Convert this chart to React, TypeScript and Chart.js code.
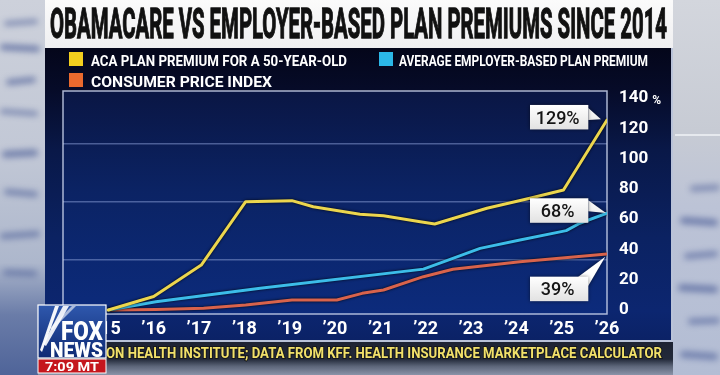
import React, { useEffect, useRef } from 'react';
import { Chart, registerables } from 'chart.js';

Chart.register(...registerables);

// ---------- text ----------
const TITLE = 'OBAMACARE VS EMPLOYER-BASED PLAN PREMIUMS SINCE 2014';
const SERIES_NAMES = [
  'ACA PLAN PREMIUM FOR A 50-YEAR-OLD',
  'AVERAGE EMPLOYER-BASED PLAN PREMIUM',
  'CONSUMER PRICE INDEX',
];
const CALLOUT_LABELS = ['129%', '68%', '39%'];
const SOURCE_HIDDEN = 'SOURCE: PARAG';
const SOURCE_VISIBLE = 'ON HEALTH INSTITUTE; DATA FROM KFF. HEALTH INSURANCE MARKETPLACE CALCULATOR';
const CLOCK = '7:09 MT';
const Y_UNIT = '%';

// ---------- axes ----------
const X_TICK_YEARS = [2014, 2015, 2016, 2017, 2018, 2019, 2020, 2021, 2022, 2023, 2024, 2025, 2026];
const X_TICK_LABELS = ['’14', '’15', '’16', '’17', '’18', '’19', '’20', '’21', '’22', '’23', '’24', '’25', '’26'];
const Y_TICKS = [0, 20, 40, 60, 80, 100, 120, 140];
const GRID_VALUES = [33.3, 71.5, 110.1];
const Y_MIN = -2.64;
const Y_MAX = 144.62;

// ---------- data (cumulative % growth) ----------
const ACA_YEARS = [2015, 2016, 2017.05, 2018.03, 2019.05, 2019.52, 2020.55, 2021.07, 2021.88, 2022.2, 2023.35, 2024.3, 2025.04, 2026];
const ACA_VALUES = [0, 8.9, 29.7, 71.5, 72.2, 68.2, 63.2, 62.3, 58.3, 56.8, 67.2, 73.8, 79.2, 125.5];

const EMP_YEARS = [2015, 2016.05, 2018.35, 2021.95, 2022.6, 2023.2, 2024.08, 2025.1, 2025.4, 2026];
const EMP_VALUES = [0, 5.5, 14.3, 27, 34.1, 40.7, 46.2, 52.4, 57.3, 64];

const CPI_YEARS = [2015, 2016.05, 2017.1, 2018.03, 2019.05, 2020.04, 2020.6, 2021.07, 2021.95, 2022.6, 2024.08, 2026];
const CPI_VALUES = [0, 0.3, 1.1, 3.3, 6.6, 6.6, 11, 13.2, 22, 26.9, 31.9, 37];

// ---------- styles ----------
const LINE_COLORS = ['#ecd64e', '#3cbde9', '#d8634c'];
const LEGEND_COLORS = ['#f3cf1e', '#2bb7e7', '#ea6a2e'];
const CALLOUT_LAYOUT = [
  { dx: -18.7, dy: -2.75, tail: [[0, 3], [0, 15]], tipDx: -6, tipDy: -0.7 },
  { dx: -18.7, dy: -2.55, tail: [[0, 2], [0, 13]], tipDx: -1, tipDy: 0 },
  { dx: -18.7, dy: 34.95, tail: [[-10, 0], [0, 9]], tipDx: -1.7, tipDy: 2.7 },
];

const pts = (xs: number[], ys: number[]) => xs.map((x, i) => ({ x, y: ys[i] }));

const overlayPlugin = {
  id: 'overlay',
  beforeDraw(chart: any) {
    const { ctx, chartArea: a } = chart;
    ctx.save();
    const g = ctx.createLinearGradient(0, a.top, 0, a.bottom);
    g.addColorStop(0, '#0a1644');
    g.addColorStop(0.45, '#0b2364');
    g.addColorStop(1, '#0c2b7c');
    ctx.fillStyle = g;
    ctx.fillRect(a.left, a.top, a.right - a.left, a.bottom - a.top);
    ctx.restore();
  },
  beforeDatasetsDraw(chart: any) {
    const { ctx, chartArea: a } = chart;
    ctx.save();
    ctx.strokeStyle = 'rgba(200,210,235,0.85)';
    ctx.lineWidth = 1.5;
    ctx.strokeRect(a.left, a.top, a.right - a.left, a.bottom - a.top);
    ctx.restore();
  },
  beforeDatasetDraw(chart: any) {
    const ctx = chart.ctx;
    ctx.save();
    ctx.shadowColor = 'rgba(0,0,0,0.9)';
    ctx.shadowBlur = 3;
  },
  afterDatasetDraw(chart: any) {
    chart.ctx.restore();
  },
  afterDatasetsDraw(chart: any) {
    const ctx = chart.ctx;
    const bw = 58.3;
    const bh = 24.5;
    CALLOUT_LABELS.forEach((label, i) => {
      const meta = chart.getDatasetMeta(i);
      const p = meta.data[meta.data.length - 1];
      const L = CALLOUT_LAYOUT[i];
      const right = p.x + L.dx;
      const left = right - bw;
      const top = p.y + L.dy - bh / 2;
      ctx.save();
      ctx.shadowColor = 'rgba(0,0,0,0.55)';
      ctx.shadowBlur = 4;
      const g = ctx.createLinearGradient(0, top, 0, top + bh);
      g.addColorStop(0, '#ffffff');
      g.addColorStop(1, '#e2e2e2');
      ctx.fillStyle = g;
      ctx.beginPath();
      ctx.moveTo(right + L.tail[0][0], top + L.tail[0][1]);
      ctx.lineTo(p.x + L.tipDx, p.y + L.tipDy);
      ctx.lineTo(right + L.tail[1][0], top + L.tail[1][1]);
      ctx.closePath();
      ctx.fill();
      ctx.fillRect(left, top, bw, bh);
      ctx.restore();
      ctx.save();
      ctx.fillStyle = '#151515';
      ctx.font = '500 18px Roboto';
      ctx.textAlign = 'center';
      ctx.textBaseline = 'alphabetic';
      ctx.fillText(label, left + bw / 2 - 1.5, top + bh / 2 + 6.4);
      ctx.restore();
    });
  },
  afterDraw(chart: any) {
    const ctx = chart.ctx;
    const ys = chart.scales.y;
    const top = Y_TICKS[Y_TICKS.length - 1];
    const py = ys.getPixelForValue(top);
    ctx.save();
    ctx.font = 'bold 17px Roboto';
    const w = ctx.measureText(String(top)).width;
    ctx.font = 'bold 12px Roboto';
    ctx.fillStyle = '#ffffff';
    ctx.textAlign = 'left';
    ctx.textBaseline = 'alphabetic';
    ctx.fillText(Y_UNIT, ys.left + 12 + w + 4, py + 6);
    ctx.restore();
  },
};

function ChartCanvas() {
  const ref = useRef<HTMLCanvasElement>(null);
  useEffect(() => {
    if (!ref.current) return;
    const tickFont = { family: 'Roboto', size: 17, weight: 'bold' as const };
    const chart = new Chart(ref.current, {
      type: 'line',
      data: {
        datasets: [
          { label: SERIES_NAMES[0], data: pts(ACA_YEARS, ACA_VALUES), borderColor: LINE_COLORS[0] },
          { label: SERIES_NAMES[1], data: pts(EMP_YEARS, EMP_VALUES), borderColor: LINE_COLORS[1] },
          { label: SERIES_NAMES[2], data: pts(CPI_YEARS, CPI_VALUES), borderColor: LINE_COLORS[2] },
        ].map((d) => ({
          ...d,
          xAxisID: 'x',
          yAxisID: 'y',
          borderWidth: 3,
          pointRadius: 0,
          tension: 0,
          fill: false,
          borderJoinStyle: 'round' as const,
          borderCapStyle: 'round' as const,
        })),
      },
      options: {
        responsive: false,
        animation: false,
        devicePixelRatio: 1,
        layout: { padding: { left: 63, top: 91, right: 53, bottom: 31 } },
        plugins: { legend: { display: false }, tooltip: { enabled: false }, title: { display: false } },
        events: [],
        scales: {
          x: {
            type: 'linear',
            position: 'bottom',
            min: X_TICK_YEARS[0],
            max: X_TICK_YEARS[X_TICK_YEARS.length - 1],
            afterBuildTicks: (s: any) => {
              s.ticks = X_TICK_YEARS.map((v) => ({ value: v }));
            },
            afterFit: (s: any) => {
              s.height = 30;
            },
            grid: { display: false, drawTicks: false },
            border: { display: false },
            ticks: {
              color: '#ffffff',
              font: { family: 'Roboto', size: 18, weight: 'bold' },
              padding: 5,
              autoSkip: false,
              maxRotation: 0,
              callback: (_v: any, i: number) => X_TICK_LABELS[i],
            },
          },
          y: {
            type: 'linear',
            position: 'right',
            min: Y_MIN,
            max: Y_MAX,
            afterBuildTicks: (s: any) => {
              s.ticks = Y_TICKS.map((v) => ({ value: v }));
            },
            afterFit: (s: any) => {
              s.width = 60;
            },
            grid: { display: false, drawTicks: false },
            border: { display: false },
            ticks: { color: '#ffffff', font: tickFont, padding: 12, callback: (v: any) => String(v) },
          },
          yGrid: {
            type: 'linear',
            position: 'left',
            min: Y_MIN,
            max: Y_MAX,
            afterBuildTicks: (s: any) => {
              s.ticks = GRID_VALUES.map((v) => ({ value: v }));
            },
            afterFit: (s: any) => {
              s.width = 0;
            },
            grid: { color: 'rgba(140,160,215,0.5)', lineWidth: 1.5, drawTicks: false },
            border: { display: false },
            ticks: { display: false },
          },
        },
      } as any,
      plugins: [overlayPlugin],
    });
    return () => chart.destroy();
  }, []);
  return (
    <canvas
      ref={ref}
      width={720}
      height={375}
      style={{ position: 'absolute', left: 0, top: 0, width: 720, height: 375, display: 'block' }}
    />
  );
}

const Blob = ({ l, t, w, h, c = '#34488a', o = 0.5, b = 3, r = 0 }: any) => (
  <div
    style={{
      position: 'absolute',
      left: l,
      top: t,
      width: w,
      height: h,
      background: c,
      opacity: o,
      filter: `blur(${b}px)`,
      borderRadius: 6,
      transform: `rotate(${r}deg)`,
    }}
  />
);

export default function App() {
  const font = 'Roboto, "Liberation Sans", sans-serif';
  return (
    <div
      style={{
        position: 'fixed',
        left: 0,
        top: 0,
        width: 720,
        height: 375,
        overflow: 'hidden',
        background: '#b4bccd',
      }}
    >
      {/* left paper */}
      <div
        style={{
          position: 'absolute',
          left: 0,
          top: 0,
          width: 48,
          height: 375,
          background: 'linear-gradient(180deg,#cdd1db 0%,#c2c8d6 40%,#adb7cc 70%,#6a7ca8 84%,#4f6499 100%)',
        }}
      />
      <Blob l={4} t={20} w={34} h={5} r={-4} />
      <Blob l={0} t={45} w={40} h={6} r={3} o={0.6} />
      <Blob l={6} t={78} w={30} h={6} r={-6} o={0.55} />
      <Blob l={0} t={110} w={38} h={5} r={4} o={0.5} />
      <Blob l={2} t={150} w={36} h={7} r={-3} o={0.55} />
      <Blob l={4} t={190} w={34} h={6} r={5} o={0.5} />
      <Blob l={0} t={232} w={40} h={6} r={-4} o={0.5} />
      <Blob l={3} t={270} w={34} h={6} r={2} o={0.45} />
      {/* right paper */}
      <div
        style={{
          position: 'absolute',
          left: 670,
          top: 0,
          width: 50,
          height: 375,
          background: 'linear-gradient(180deg,#d3d6dd 0%,#c7cbd4 35%,#bcc3d6 55%,#b3bdd4 100%)',
        }}
      />
      <div style={{ position: 'absolute', left: 675, top: 134, width: 45, height: 2, background: '#eef0f4', opacity: 0.8 }} />
      <Blob l={690} t={185} w={30} h={6} r={-3} o={0.45} />
      <Blob l={680} t={218} w={38} h={7} r={4} o={0.55} />
      <Blob l={684} t={252} w={34} h={6} r={-5} o={0.5} />
      <Blob l={678} t={285} w={40} h={7} r={3} o={0.55} />
      <Blob l={688} t={318} w={32} h={6} r={-2} o={0.5} />
      <Blob l={680} t={352} w={38} h={7} r={4} o={0.5} />
      {/* bottom scene */}
      <div
        style={{
          position: 'absolute',
          left: 38,
          top: 340,
          width: 635,
          height: 35,
          background: 'linear-gradient(180deg,#1d2232 0%,#232a3a 55%,#5c6579 75%,#8a93a8 100%)',
        }}
      />
      {/* panel */}
      <div
        style={{
          position: 'absolute',
          left: 45,
          top: 48,
          width: 626,
          height: 292,
          background:
            'linear-gradient(180deg,#04061a 0%,#060b28 14%,#091848 35%,#0b2262 65%,#0c2670 90%,#0b2266 100%)',
          borderRight: '2px solid #b9c2d8',
          borderBottom: '2px solid #b9c2d8',
        }}
      />
      {/* title band */}
      <div
        style={{
          position: 'absolute',
          left: 45,
          top: 0,
          width: 628,
          height: 48,
          background: 'linear-gradient(180deg,#fbfbfb 0%,#efeff1 100%)',
        }}
      />
      <ChartCanvas />
      <svg
        width={720}
        height={375}
        style={{ position: 'absolute', left: 0, top: 0 }}
        fontFamily={font}
      >
        <defs>
          <linearGradient id="foxbg" x1="0" y1="0" x2="0" y2="1">
            <stop offset="0" stopColor="#2f58ad" />
            <stop offset="1" stopColor="#0e2a74" />
          </linearGradient>
          <clipPath id="srcclip">
            <rect x={38} y={330} width={640} height={45} />
          </clipPath>
        </defs>
        {/* title */}
        <text
          x={50}
          y={38}
          fontSize={42}
          fontWeight={700}
          fill="#111"
          stroke="#111"
          strokeWidth={1.3}
          textLength={617}
          lengthAdjust="spacingAndGlyphs"
        >
          {TITLE}
        </text>
        {/* legend */}
        <rect x={69} y={52} width={14} height={14} fill={LEGEND_COLORS[0]} />
        <text x={91} y={66} fontSize={15.5} fontWeight={700} fill="#fff" textLength={256} lengthAdjust="spacingAndGlyphs">
          {SERIES_NAMES[0]}
        </text>
        <rect x={379} y={52} width={14} height={14} fill={LEGEND_COLORS[1]} />
        <text x={399} y={66} fontSize={15.5} fontWeight={700} fill="#fff" textLength={249} lengthAdjust="spacingAndGlyphs">
          {SERIES_NAMES[1]}
        </text>
        <rect x={69} y={73} width={14} height={14} fill={LEGEND_COLORS[2]} />
        <text x={91} y={87} fontSize={15.5} fontWeight={700} fill="#fff" textLength={181} lengthAdjust="spacingAndGlyphs">
          {SERIES_NAMES[2]}
        </text>
        {/* source */}
        <g clipPath="url(#srcclip)">
          <text
            x={106}
            y={358}
            fontSize={14}
            fontWeight={700}
            fill="#f2e16a"
            textAnchor="end"
            textLength={90}
            lengthAdjust="spacingAndGlyphs"
          >
            {SOURCE_HIDDEN}
          </text>
        </g>
        <text
          x={106}
          y={358}
          fontSize={14}
          fontWeight={700}
          fill="#f2e16a"
          stroke="#15171c"
          strokeWidth={2}
          style={{ paintOrder: 'stroke' }}
          textLength={556}
          lengthAdjust="spacingAndGlyphs"
        >
          {SOURCE_VISIBLE}
        </text>
        {/* logo */}
        <rect x={38} y={305} width={68} height={53} fill="url(#foxbg)" stroke="#ffffff" strokeWidth={1.2} />
        <polygon points="55,306 59,306 42,352 40,350" fill="#ffffff" opacity={0.95} />
        <polygon points="63,306 69,306 46,346 43,344" fill="#ffffff" opacity={0.9} />
        <polygon points="72,306 76,306 52,330 50,328" fill="#ffffff" opacity={0.6} />
        <text x={103} y={340} fontSize={25} fontWeight={900} fill="#fff" textAnchor="end" textLength={42} lengthAdjust="spacingAndGlyphs">
          FOX
        </text>
        <text x={103} y={357} fontSize={21} fontWeight={900} fill="#fff" textAnchor="end" textLength={53} lengthAdjust="spacingAndGlyphs">
          NEWS
        </text>
        <rect x={38} y={359} width={68} height={14} fill="#c5161d" stroke="#ffffff" strokeWidth={1} />
        <text x={72} y={370.5} fontSize={13} fontWeight={700} fill="#fff" textAnchor="middle" textLength={54} lengthAdjust="spacingAndGlyphs">
          {CLOCK}
        </text>
      </svg>
    </div>
  );
}
